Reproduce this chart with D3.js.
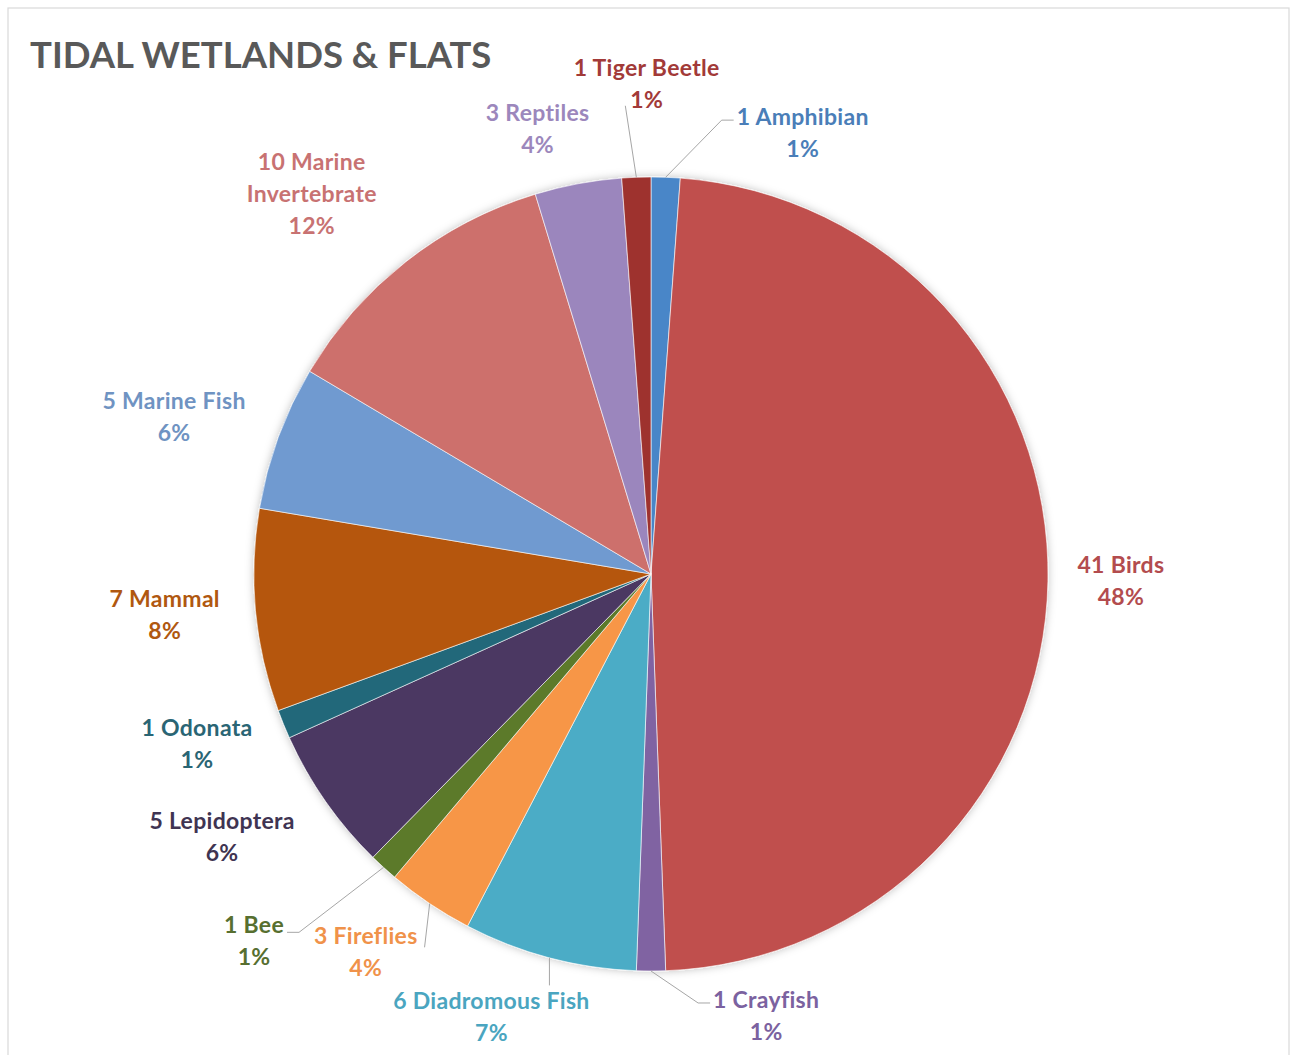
<!DOCTYPE html>
<html>
<head>
<meta charset="utf-8">
<script src="https://cdn.jsdelivr.net/npm/d3@7"></script>
<style>
  html, body { margin: 0; padding: 0; background: #ffffff; }
  svg { display: block; }
  text { font-family: Lato, "Open Sans", sans-serif; font-weight: 700; }
</style>
</head>
<body>
<svg id="chart" width="1292" height="1055"></svg>
<script>
// ---------- DATA ----------
const categories = ["Amphibian", "Birds", "Crayfish", "Diadromous Fish", "Fireflies", "Bee",
  "Lepidoptera", "Odonata", "Mammal", "Marine Fish", "Marine Invertebrate", "Reptiles", "Tiger Beetle"];
const counts = [1, 41, 1, 6, 3, 1, 5, 1, 7, 5, 10, 3, 1];
const labelLines = [
  ["1 Amphibian"], ["41 Birds"], ["1 Crayfish"], ["6 Diadromous Fish"], ["3 Fireflies"], ["1 Bee"],
  ["5 Lepidoptera"], ["1 Odonata"], ["7 Mammal"], ["5 Marine Fish"], ["10 Marine", "Invertebrate"],
  ["3 Reptiles"], ["1 Tiger Beetle"]
];
const title = "TIDAL WETLANDS & FLATS";

// ---------- STYLE / LAYOUT ----------
const sliceColors = ["#4a86c8", "#c0504d", "#8064a2", "#4bacc6", "#f79646", "#5b7a2c",
  "#4b3862", "#21687a", "#b5560a", "#6f9ad0", "#cd706c", "#9b86bd", "#9e302e"];
const textColors = ["#4a7eb8", "#b34c4e", "#7b62a0", "#4aa5c0", "#f0924a", "#576f30",
  "#3f3452", "#2a6574", "#b05810", "#6f93c2", "#c87272", "#9c87bc", "#a23a38"];
// label anchor: [angle in degrees clockwise from top, distance from centre]
const labelPolar = [[19.0, 466], [90.9, 470], [165.4, 457], [199.8, 471], [217, 474], [227.2, 541],
  [238.5, 503], [249.4, 485], [265.2, 488], [288.2, 502], [318.2, 509], [345.7, 459], [359.5, 490]];
// leader lines: side of the label where the leader attaches (null = none)
const leaderSide = ["left", null, "left", "top", "right", "right", null, null, null, null, null, null, "bottomleft"];

const W = 1292, H = 1055;
const cx = 651, cy = 574, R = 397;
const fontSize = 23, lineGap = 32;

const svg = d3.select("#chart");

// frame
svg.append("rect").attr("x", 8).attr("y", 8).attr("width", W - 11).attr("height", H + 10)
  .attr("fill", "#ffffff").attr("stroke", "#d9d9d9").attr("stroke-width", 1.2);

// title
svg.append("text").attr("x", 30).attr("y", 68)
  .attr("font-size", 36.5).attr("fill", "#595959").text(title);

// shadow filter
const defs = svg.append("defs");
const f = defs.append("filter").attr("id", "shadow").attr("x", "-10%").attr("y", "-10%")
  .attr("width", "120%").attr("height", "120%");
f.append("feDropShadow").attr("dx", 0).attr("dy", 0).attr("stdDeviation", 4)
  .attr("flood-color", "#000").attr("flood-opacity", 0.25);

const total = d3.sum(counts);
const data = categories.map((c, i) => ({ name: c, value: counts[i], i }));
const pie = d3.pie().sort(null).value(d => d.value).startAngle(0).endAngle(2 * Math.PI);
const arcs = pie(data);
const arc = d3.arc().innerRadius(0).outerRadius(R);

const g = svg.append("g").attr("transform", `translate(${cx},${cy})`);
g.append("g").attr("filter", "url(#shadow)")
  .selectAll("path").data(arcs).join("path")
  .attr("d", arc)
  .attr("fill", d => sliceColors[d.data.i])
  .attr("stroke", "#ffffff").attr("stroke-width", 0.6);

function polar(angDeg, r) {
  const a = angDeg * Math.PI / 180;
  return [cx + r * Math.sin(a), cy - r * Math.cos(a)];
}

// labels
const labelG = svg.append("g");
arcs.forEach(d => {
  const i = d.data.i;
  const lines = labelLines[i].concat([Math.round(d.value / total * 100) + "%"]);
  const [lx, ly] = polar(labelPolar[i][0], labelPolar[i][1]);
  const n = lines.length;
  const capH = 15.5;
  const firstBase = ly - (n - 1) * lineGap / 2 + capH / 2;
  const t = labelG.append("text").attr("text-anchor", "middle")
    .attr("font-size", fontSize).attr("letter-spacing", 0.3).attr("fill", textColors[i]);
  const tspans = lines.map((s, k) => t.append("tspan").attr("x", lx).attr("y", firstBase + k * lineGap).text(s));

  const side = leaderSide[i];
  if (!side) return;
  const mid = (d.startAngle + d.endAngle) / 2 * 180 / Math.PI;
  const [sx, sy] = polar(mid, R);
  const w0 = tspans[0].node().getComputedTextLength();
  const wl = tspans[n - 1].node().getComputedTextLength();
  let pts;
  if (side === "left") {
    const ex = lx - w0 / 2 - 3, ey = firstBase - 5;
    pts = [[sx, sy], [ex - 12, ey], [ex, ey]];
  } else if (side === "right") {
    const ex = lx + w0 / 2 + 3;
    if (i === 5) {
      const ey = firstBase - 1;
      pts = [[sx, sy], [ex + 12, ey], [ex, ey]];
    } else {
      pts = [[sx, sy], [ex + 4, firstBase + 3]];
    }
  } else if (side === "top") {
    pts = [[sx, sy], [sx, firstBase - capH - 8]];
  } else if (side === "bottomleft") {
    const lb = firstBase + (n - 1) * lineGap;
    pts = [[sx, sy], [lx - wl / 2 - 5, lb - 2]];
  }
  svg.append("path").attr("d", d3.line()(pts))
    .attr("fill", "none").attr("stroke", "#a6a6a6").attr("stroke-width", 1);
});
</script>
</body>
</html>
